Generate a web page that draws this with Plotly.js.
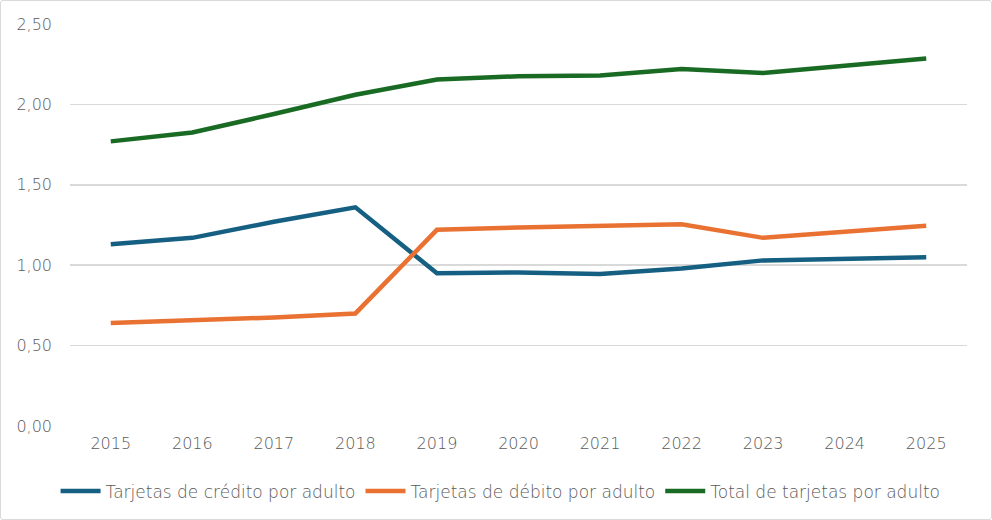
<!DOCTYPE html>
<html>
<head>
<meta charset="utf-8">
<script src="https://cdn.plot.ly/plotly-3.0.1.min.js"></script>
<style>
html,body{margin:0;padding:0;background:#fff;}
#wrap{position:relative;width:992px;height:520px;}
#chart{width:992px;height:520px;}
#frame{position:absolute;left:0;top:0;width:990px;height:518px;border:1px solid #d9d9d9;border-radius:3px;pointer-events:none;}
</style>
</head>
<body>
<div id="wrap"><div id="chart"></div><div id="frame"></div></div>
<script>
var years = ['2015','2016','2017','2018','2019','2020','2021','2022','2023','2024','2025'];
var credito = [1.13, 1.17, 1.27, 1.36, 0.95, 0.955, 0.945, 0.98, 1.03, 1.04, 1.05];
var debito = [0.64, 0.655, 0.675, 0.70, 1.22, 1.235, 1.245, 1.255, 1.17, 1.21, 1.245];
var total = [1.77, 1.825, 1.94, 2.06, 2.155, 2.175, 2.18, 2.22, 2.195, 2.24, 2.285];
var yTicks = [0, 0.5, 1.0, 1.5, 2.0, 2.5];
var yTickText = ['0,00', '0,50', '1,00', '1,50', '2,00', '2,50'];

var fontFam = '"DejaVu Sans", "Open Sans", sans-serif';
var txtColor = '#595959';

var traces = [
  {x: years, y: credito, name: 'Tarjetas de crédito por adulto', type: 'scatter', mode: 'lines',
   line: {color: '#156082', width: 4.5}},
  {x: years, y: debito, name: 'Tarjetas de débito por adulto', type: 'scatter', mode: 'lines',
   line: {color: '#E97132', width: 4.5}},
  {x: years, y: total, name: 'Total de tarjetas por adulto', type: 'scatter', mode: 'lines',
   line: {color: '#196B24', width: 4.5}}
];

var layout = {
  width: 992, height: 520,
  margin: {l: 70, r: 25, t: 24, b: 93},
  paper_bgcolor: '#ffffff', plot_bgcolor: '#ffffff',
  font: {family: fontFam, color: txtColor, size: 16, weight: 200},
  showlegend: true,
  legend: {orientation: 'h', x: 0.48, xanchor: 'center', y: -0.115, yanchor: 'top',
           font: {family: fontFam, size: 17, color: txtColor, weight: 200}, itemwidth: 40, tracegroupgap: 0},
  xaxis: {type: 'category', range: [-0.5, 10.5], showgrid: false, zeroline: false, showline: false,
          ticks: '', tickfont: {family: fontFam, size: 16, color: txtColor, weight: 200}, ticklabelstandoff: 6},
  yaxis: {range: [0, 2.5], tickvals: yTicks, ticktext: yTickText, showgrid: true, gridcolor: '#d9d9d9',
          gridwidth: 1.5, zeroline: false, showline: false, ticks: '',
          tickfont: {family: fontFam, size: 16, color: txtColor, weight: 200}, ticklabelstandoff: 17, fixedrange: true}
};

Plotly.newPlot('chart', traces, layout, {displayModeBar: false, staticPlot: true});
</script>
</body>
</html>
